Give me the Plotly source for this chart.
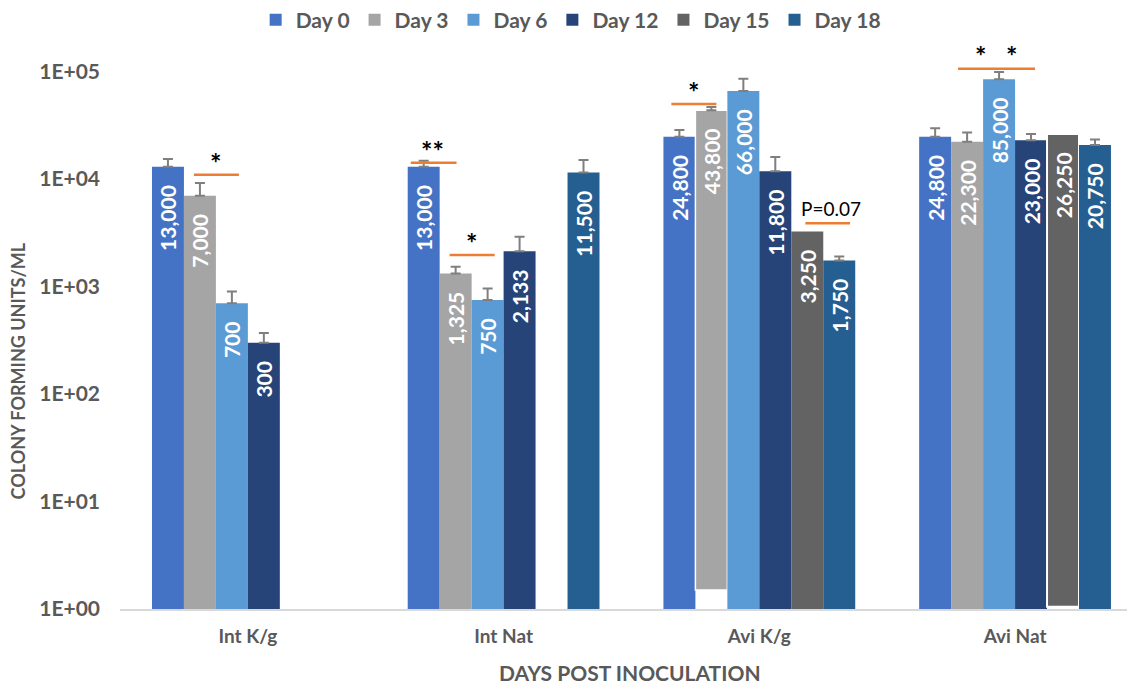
import plotly.graph_objects as go

categories = ["Int K/g", "Int Nat", "Avi K/g", "Avi Nat"]
series_names = ["Day 0", "Day 3", "Day 6", "Day 12", "Day 15", "Day 18"]
day0 = [13000, 13000, 24800, 24800]
day3 = [7000, 1325, 43800, 22300]
day6 = [700, 750, 66000, 85000]
day12 = [300, 2133, 11800, 23000]
day15 = [None, None, 3250, 26250]
day18 = [None, 11500, 1750, 20750]
err0 = [2400, 1800, 3800, 4850]
err3 = [2200, 200, 3000, 4900]
err6 = [200, 210, 20000, 14200]
err12 = [70, 780, 4260, 3300]
err15 = [0, 0, 0, 0]
err18 = [0, 3560, 150, 2650]
ytick_vals = [1, 10, 100, 1000, 10000, 100000]
ytick_text = ["1E+00", "1E+01", "1E+02", "1E+03", "1E+04", "1E+05"]

colors = ["#4472C4", "#A5A5A5", "#5B9BD5", "#264478", "#636363", "#255E91"]
values = [day0, day3, day6, day12, day15, day18]
errors = [err0, err3, err6, err12, err15, err18]
# quirks of the original drawing: two bars do not start at the axis
bases = [None, [1e-3, 1e-3, 1.5, 1e-3], None, None, [1e-3, 1e-3, 1e-3, 1.05], None]
outline = [None, [0, 0, 1.5, 0], None, None, [0, 0, 0, 2], None]

FONT = "Lato"
GREY = "#595959"
xpos = list(range(len(categories)))
PAD = "\u00a0\u00a0\u00a0"

fig = go.Figure()
for i, name in enumerate(series_names):
    vals = values[i]
    txt = [f"{v:,}{PAD}" if v is not None else "" for v in vals]
    show_err = any(e for e in errors[i])
    kw = {}
    if bases[i] is not None:
        kw["base"] = bases[i]
    mline = dict(width=0)
    if outline[i] is not None:
        mline = dict(width=outline[i], color="white")
    fig.add_trace(go.Bar(
        name=name, x=xpos, y=vals,
        marker=dict(color=colors[i], line=mline),
        text=txt, textposition="inside", insidetextanchor="end",
        textangle=-90, constraintext="none",
        textfont=dict(family=FONT, size=21, color="white", weight="bold"),
        error_y=dict(type="data", array=errors[i], symmetric=False,
                     arrayminus=[0] * len(vals), visible=show_err,
                     color="#7F7F7F", thickness=2, width=5),
        **kw,
    ))

ORANGE = "#ED7D31"
# significance bars: x in category units, y as log10 of the value
sig_lines = [(-0.211, -0.035, 4.040), (0.637, 0.816, 4.152), (0.789, 0.965, 3.293),
             (1.656, 1.832, 4.698), (2.180, 2.355, 3.588), (2.777, 3.078, 5.026)]
for x0, x1, yy in sig_lines:
    fig.add_shape(type="line", xref="x", yref="y", x0=x0, x1=x1,
                  y0=10 ** yy, y1=10 ** yy,
                  line=dict(color=ORANGE, width=2.5))

sig_text = [(-0.125, 4.158, "*"), (0.723, 4.270, "**"), (0.875, 3.414, "*"),
            (1.742, 4.819, "*"), (2.863, 5.153, "*"), (2.988, 5.153, "*")]
annotations = []
for xx, yy, t in sig_text:
    annotations.append(dict(x=xx, y=yy, xref="x", yref="y", text=t, showarrow=False,
                            font=dict(family=FONT, size=27, color="black", weight="bold")))
annotations.append(dict(x=2.281, y=3.730, xref="x", yref="y", text="P=0.07", showarrow=False,
                        font=dict(family=FONT, size=19, color="black")))
annotations.append(dict(x=-0.101, y=0.414, xref="paper", yref="paper", xanchor="center",
                        yanchor="middle",
                        text="COLONY FORMING UNITS/ML", textangle=-90, showarrow=False,
                        font=dict(family=FONT, size=18, color=GREY, weight="bold")))
annotations.append(dict(x=0.502, y=-0.111, xref="paper", yref="paper", xanchor="center",
                        yanchor="middle", text="DAYS POST INOCULATION", showarrow=False,
                        font=dict(family=FONT, size=21, color=GREY, weight="bold")))

# the page adds an 8 px body margin, so the figure is 8 px smaller than the window
fig.update_layout(
    width=1127, height=677,
    margin=dict(l=112, r=0, t=26, b=76, autoexpand=False),
    paper_bgcolor="white", plot_bgcolor="white",
    barmode="group", bargap=0.25, bargroupgap=0,
    showlegend=True,
    legend=dict(orientation="h", x=0.444, xanchor="center", yref="container",
                y=0.982, yanchor="middle",
                font=dict(family=FONT, size=21, color=GREY, weight="bold"),
                itemwidth=30, traceorder="normal"),
    annotations=annotations,
    xaxis=dict(range=[-0.5, 3.469], tickvals=xpos, ticktext=categories,
               showgrid=False, zeroline=False, showline=True, linecolor="#D9D9D9",
               linewidth=2, ticks="", ticklabelstandoff=9, automargin=False,
               tickfont=dict(family=FONT, size=19, color=GREY, weight="bold")),
    yaxis=dict(type="log", range=[0, 5.35], tickvals=ytick_vals, ticktext=ytick_text,
               showgrid=False, zeroline=False, showline=False, ticks="",
               ticklabelstandoff=19, automargin=False,
               tickfont=dict(family=FONT, size=21, color=GREY, weight="bold")),
)

fig.write_html("out.html")
